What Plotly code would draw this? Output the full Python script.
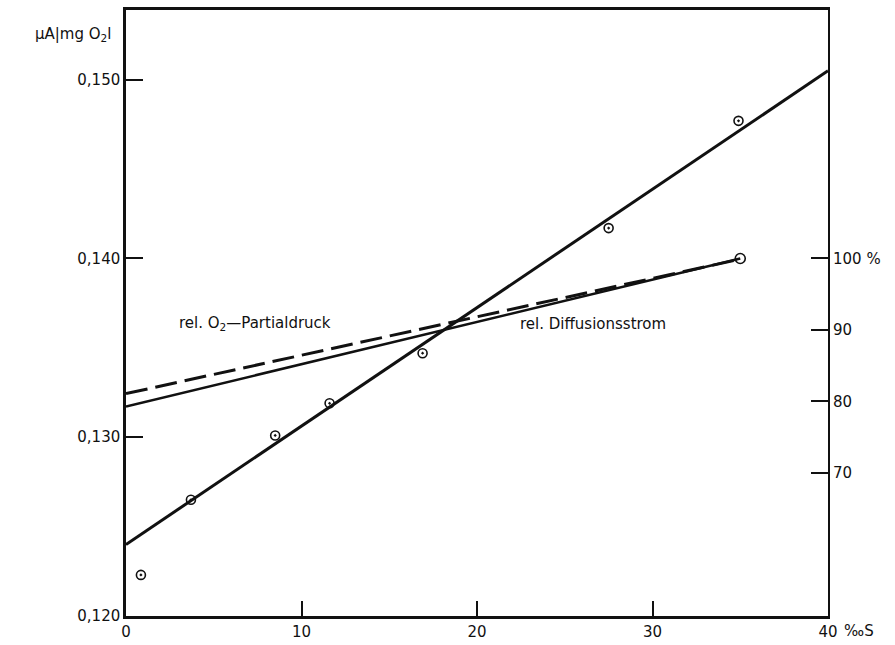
import plotly.graph_objects as go

# measured points (salinity ‰S, μA per mg O2/l)
sal_pts = [0.85, 3.7, 8.5, 11.6, 16.9, 27.5, 34.9]
cur_pts = [0.1223, 0.1265, 0.1301, 0.1319, 0.1347, 0.1417, 0.1477]

# regression line (left axis)
reg_x = [0, 40]
reg_y = [0.1240, 0.1505]

# relative curves (right axis, %)
diff_x = [0, 35]
diff_y = [79.3, 100.0]
part_x = [0, 35]
part_y = [81.1, 99.9]
diff_pt_x = [35]
diff_pt_y = [100.0]

left_ticks = [0.120, 0.130, 0.140, 0.150]
left_labels = ["0,120", "0,130", "0,140", "0,150"]
x_ticks = [0, 10, 20, 30, 40]
x_labels = ["0", "10", "20", "30", "40"]
right_ticks = [70, 80, 90, 100]
right_labels = ["70", "80", "90", "100 %"]

ink = "#111111"
font = dict(family="DejaVu Sans, Liberation Sans, sans-serif", size=15, color=ink)

fig = go.Figure()
fig.add_trace(go.Scatter(x=reg_x, y=reg_y, mode="lines",
                         line=dict(color=ink, width=3), showlegend=False))
fig.add_trace(go.Scatter(x=sal_pts, y=cur_pts, mode="markers",
                         marker=dict(symbol="circle-open-dot", size=9, color=ink,
                                     line=dict(width=1.6, color=ink)),
                         showlegend=False))
fig.add_trace(go.Scatter(x=part_x, y=part_y, mode="lines", yaxis="y2",
                         line=dict(color=ink, width=3, dash="22px,8px"), showlegend=False))
fig.add_trace(go.Scatter(x=diff_x, y=diff_y, mode="lines", yaxis="y2",
                         line=dict(color=ink, width=2.5), showlegend=False))
fig.add_trace(go.Scatter(x=diff_pt_x, y=diff_pt_y, mode="markers", yaxis="y2",
                         marker=dict(symbol="circle-open", size=10, color=ink,
                                     line=dict(width=1.6, color=ink)),
                         showlegend=False))

fig.update_layout(
    width=895, height=645,
    margin=dict(l=126, r=67, t=10, b=29),
    paper_bgcolor="white", plot_bgcolor="white",
    font=font,
    xaxis=dict(range=[0, 40], tickvals=x_ticks, ticktext=x_labels,
               ticks="inside", ticklen=15, tickwidth=2, tickcolor=ink,
               ticklabelstandoff=0, automargin=False,
               showline=True, linewidth=2.5, linecolor=ink, mirror=True,
               showgrid=False, zeroline=False, tickfont=font),
    yaxis=dict(range=[0.120, 0.1539], tickvals=left_ticks, ticktext=left_labels,
               ticks="inside", ticklen=17, tickwidth=1.5, tickcolor=ink,
               automargin=False,
               showline=True, linewidth=2.5, linecolor=ink,
               showgrid=False, zeroline=False, tickfont=font),
    yaxis2=dict(range=[50, 134.75], overlaying="y", side="right",
                tickvals=right_ticks, ticktext=right_labels,
                ticks="inside", ticklen=17, tickwidth=1.5, tickcolor=ink,
                automargin=False,
                showline=True, linewidth=2, linecolor=ink,
                showgrid=False, zeroline=False, tickfont=font),
)

fig.add_annotation(xref="paper", yref="paper", x=-0.018, y=0.96,
                   text="μA|mg O<sub>2</sub>l", showarrow=False,
                   xanchor="right", yanchor="middle", font=font)
fig.add_annotation(xref="paper", yref="paper", x=(842 - 126) / 702, y=(616 - 631) / 606,
                   text="‰S", showarrow=False,
                   xanchor="left", yanchor="middle", font=font)
fig.add_annotation(xref="paper", yref="paper", x=(177 - 126) / 702, y=(616 - 324) / 606,
                   text="rel. O<sub>2</sub>—Partialdruck", showarrow=False,
                   xanchor="left", yanchor="middle", font=font)
fig.add_annotation(xref="paper", yref="paper", x=(518 - 126) / 702, y=(616 - 324) / 606,
                   text="rel. Diffusionsstrom", showarrow=False,
                   xanchor="left", yanchor="middle", font=font)

fig.write_html("out.html")
